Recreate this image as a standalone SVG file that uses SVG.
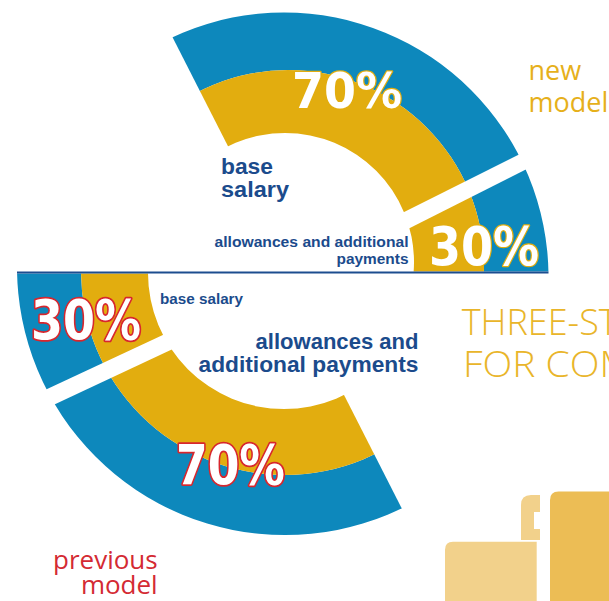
<svg xmlns="http://www.w3.org/2000/svg" width="609" height="601" viewBox="0 0 609 601">
<style>
.blue{fill:#0d88bc;fill-rule:evenodd}
.yel{fill:#e2ad0f;fill-rule:evenodd}
.pct{font-family:"DejaVu Sans Condensed","DejaVu Sans","Liberation Sans",sans-serif;font-weight:bold;fill:#ffffff;paint-order:stroke;stroke-linejoin:round}
.pt{stroke:#e2ad0f;stroke-width:2.5}
.pb{stroke:#d8262d;stroke-width:3.5}
.lbl{font-family:"Liberation Sans",Arial,sans-serif;font-weight:bold;fill:#1b4b8c}
.cap{font-family:"Open Sans","Liberation Sans",sans-serif;font-weight:300;fill:#e9b52a}
.gold{font-family:"Open Sans","Liberation Sans",sans-serif;fill:#e6b01b}
.red{font-family:"Open Sans","Liberation Sans",sans-serif;fill:#d42a33}
</style>
<defs>
<clipPath id="cT70"><polygon points="290.5,268.9 143.4,-20 609,-20 609,109.6"/></clipPath>
<clipPath id="cT30"><polygon points="323.7,271.5 609,127.4 609,271.5"/></clipPath>
<clipPath id="cB30"><polygon points="0,273.5 294.5,273.5 0,411.1"/></clipPath>
<clipPath id="cB70"><polygon points="292.1,293.1 0,430 0,620 458.6,620"/></clipPath>
<path id="ringTb" d="M19.5,277a264.5,264.5 0 1,0 529,0a264.5,264.5 0 1,0 -529,0Z M92,266a196,196 0 1,0 392,0a196,196 0 1,0 -392,0Z"/>
<path id="ringTy" d="M92,266a196,196 0 1,0 392,0a196,196 0 1,0 -392,0Z M156,262a129,129 0 1,0 258,0a129,129 0 1,0 -258,0Z"/>
<path id="ringBb" d="M17,267a268,268 0 1,0 536,0a268,268 0 1,0 -536,0Z M81,271a204,204 0 1,0 408,0a204,204 0 1,0 -408,0Z"/>
<path id="ringBy" d="M81,271a204,204 0 1,0 408,0a204,204 0 1,0 -408,0Z M148,273a136,136 0 1,0 272,0a136,136 0 1,0 -272,0Z"/>
</defs>

<g id="new-model-70">
<g clip-path="url(#cT70)"><use href="#ringTb" class="blue"/><use href="#ringTy" class="yel"/></g>
<text class="pct pt" x="292" y="108" font-size="50" textLength="110" lengthAdjust="spacingAndGlyphs">70%</text>
</g>
<g id="new-model-30">
<g clip-path="url(#cT30)"><use href="#ringTb" class="blue"/><use href="#ringTy" class="yel"/></g>
<text class="pct pt" x="429" y="265" font-size="54" textLength="110" lengthAdjust="spacingAndGlyphs">30%</text>
</g>
<g id="previous-model-30">
<g clip-path="url(#cB30)"><use href="#ringBb" class="blue"/><use href="#ringBy" class="yel"/></g>
<text class="pct pb" x="31" y="339" font-size="56" textLength="110" lengthAdjust="spacingAndGlyphs">30%</text>
</g>
<g id="previous-model-70">
<g clip-path="url(#cB70)"><use href="#ringBb" class="blue"/><use href="#ringBy" class="yel"/></g>
<text class="pct pb" x="176" y="484" font-size="56" textLength="109" lengthAdjust="spacingAndGlyphs">70%</text>
</g>

<g id="divider">
<line x1="17" y1="272.5" x2="548.5" y2="272.5" stroke="#1c4d8f" stroke-width="2"/>
</g>

<g id="labels-new">
<text class="lbl" x="221" y="174" font-size="22" textLength="52" lengthAdjust="spacingAndGlyphs">base</text>
<text class="lbl" x="221" y="196.5" font-size="22" textLength="68" lengthAdjust="spacingAndGlyphs">salary</text>
<text class="lbl" x="408.5" y="247" font-size="15" text-anchor="end" textLength="194" lengthAdjust="spacingAndGlyphs">allowances and additional</text>
<text class="lbl" x="408.5" y="264" font-size="15" text-anchor="end" textLength="72" lengthAdjust="spacingAndGlyphs">payments</text>
<text class="gold" x="528.5" y="80" font-size="27">new</text>
<text class="gold" x="528.5" y="111.5" font-size="27">model</text>
</g>

<g id="labels-previous">
<text class="lbl" x="160" y="303.5" font-size="15" textLength="83" lengthAdjust="spacingAndGlyphs">base salary</text>
<text class="lbl" x="418.5" y="348.5" font-size="22" text-anchor="end" textLength="163" lengthAdjust="spacingAndGlyphs">allowances and</text>
<text class="lbl" x="418.5" y="371.5" font-size="22" text-anchor="end" textLength="220" lengthAdjust="spacingAndGlyphs">additional payments</text>
<text class="red" x="157.7" y="568.5" font-size="26" text-anchor="end">previous</text>
<text class="red" x="157.7" y="593.5" font-size="26" text-anchor="end">model</text>
</g>

<g id="title">
<text class="cap" x="461.7" y="335" font-size="37" textLength="156" lengthAdjust="spacingAndGlyphs">THREE-ST</text>
<text class="cap" x="463" y="376.5" font-size="37" textLength="170" lengthAdjust="spacingAndGlyphs">FOR COM</text>
</g>

<g id="blocks">
<path d="M445,601V549.7Q445,541.7 453,541.7H536.7V601Z" fill="#f2d18b"/>
<path d="M521,540V505Q521,495 531,495H540V512H534V529H540V540Z" fill="#f2d18b"/>
<path d="M550,601V500Q550,491.5 558.5,491.5H609V601Z" fill="#ecbd55"/>
</g>
</svg>
